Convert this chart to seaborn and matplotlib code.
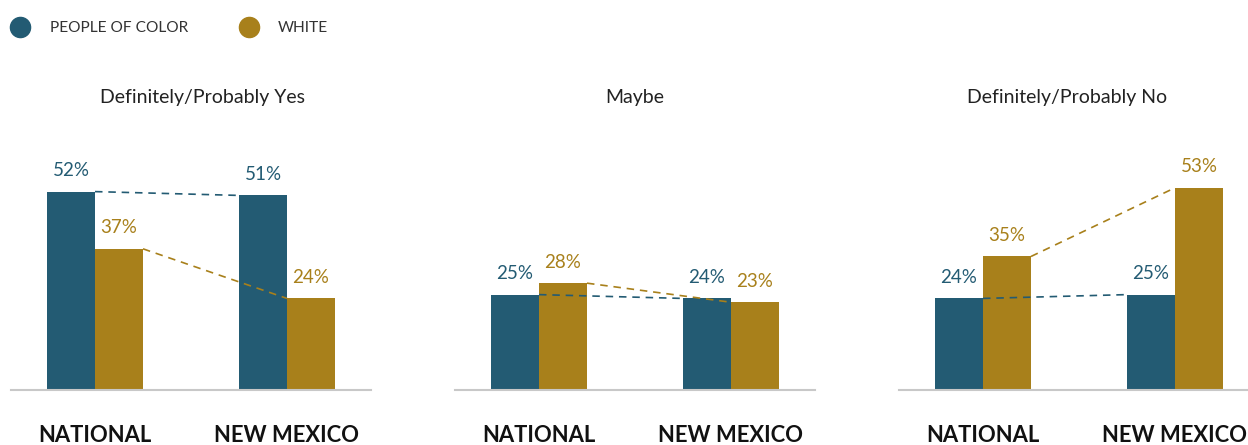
import matplotlib
matplotlib.use("Agg")
import matplotlib.pyplot as plt
from matplotlib.lines import Line2D
import pandas as pd
import seaborn as sns

# Survey answers by region, split by race group (percent)
regions = ["NATIONAL", "NEW MEXICO"]
groups = ["PEOPLE OF COLOR", "WHITE"]
panels = ["Definitely/Probably Yes", "Maybe", "Definitely/Probably No"]
people_of_color = [[52, 51], [25, 24], [24, 25]]
white = [[37, 24], [28, 23], [35, 53]]

colors = {"PEOPLE OF COLOR": "#235B73", "WHITE": "#A8801B"}

sns.set_theme(style="white")
plt.rcParams["font.family"] = ["Lato", "DejaVu Sans"]

W, H = 1248, 445
fig = plt.figure(figsize=(W / 100, H / 100), dpi=100)

axis_lefts = [11, 455, 899]
title_x = [202, 635, 1067]
axis_width = 360
baseline = 390
axis_height = 248

for i, title in enumerate(panels):
    ax = fig.add_axes([axis_lefts[i] / W, (H - baseline) / H,
                       axis_width / W, axis_height / H])
    df = pd.DataFrame({
        "region": regions * 2,
        "group": [groups[0]] * 2 + [groups[1]] * 2,
        "value": people_of_color[i] + white[i],
    })
    sns.barplot(data=df, x="region", y="value", hue="group",
                order=regions, hue_order=groups, palette=colors,
                width=0.5, saturation=1, legend=False, linewidth=0, ax=ax)
    ax.set_xlim(-0.4375, 1.4375)
    ax.set_ylim(0, 65)

    for container, grp in zip(ax.containers, groups):
        c = colors[grp]
        ax.bar_label(container, labels=[f"{v:.0f}%" for v in container.datavalues],
                     padding=9, color=c, fontsize=13.5)
        # dashed connector between the two regions' bars of the same group
        p0, p1 = container.patches[0], container.patches[1]
        ax.plot([p0.get_x() + p0.get_width(), p1.get_x()],
                [p0.get_height(), p1.get_height()],
                color=c, lw=1.2, ls=(0, (4.5, 3.5)), zorder=3)

    for side in ["top", "right", "left"]:
        ax.spines[side].set_visible(False)
    ax.spines["bottom"].set_color("#C8C8C8")
    ax.spines["bottom"].set_linewidth(1.5)
    ax.set_yticks([])
    ax.set_xlabel("")
    ax.set_ylabel("")
    ax.tick_params(axis="x", length=0, pad=25)
    for lbl in ax.get_xticklabels():
        lbl.set_fontweight("bold")
        lbl.set_fontsize(15.8)
        lbl.set_color("#111111")

    fig.text(title_x[i] / W, 1 - 97 / H, title, ha="center", va="center",
             fontsize=14, color="#222222")

handles = [Line2D([0], [0], marker="o", ls="none", markersize=14.5,
                  markerfacecolor=colors[g], markeredgecolor=colors[g])
           for g in groups]
fig.legend(handles, groups, loc="center left", bbox_to_anchor=(0.0, 1 - 28 / H),
           ncol=2, frameon=False, fontsize=11.2, handletextpad=0.9,
           columnspacing=2.9, labelcolor="#333333", borderaxespad=0,
           borderpad=0.3)

fig.savefig("out.png", dpi=100)
